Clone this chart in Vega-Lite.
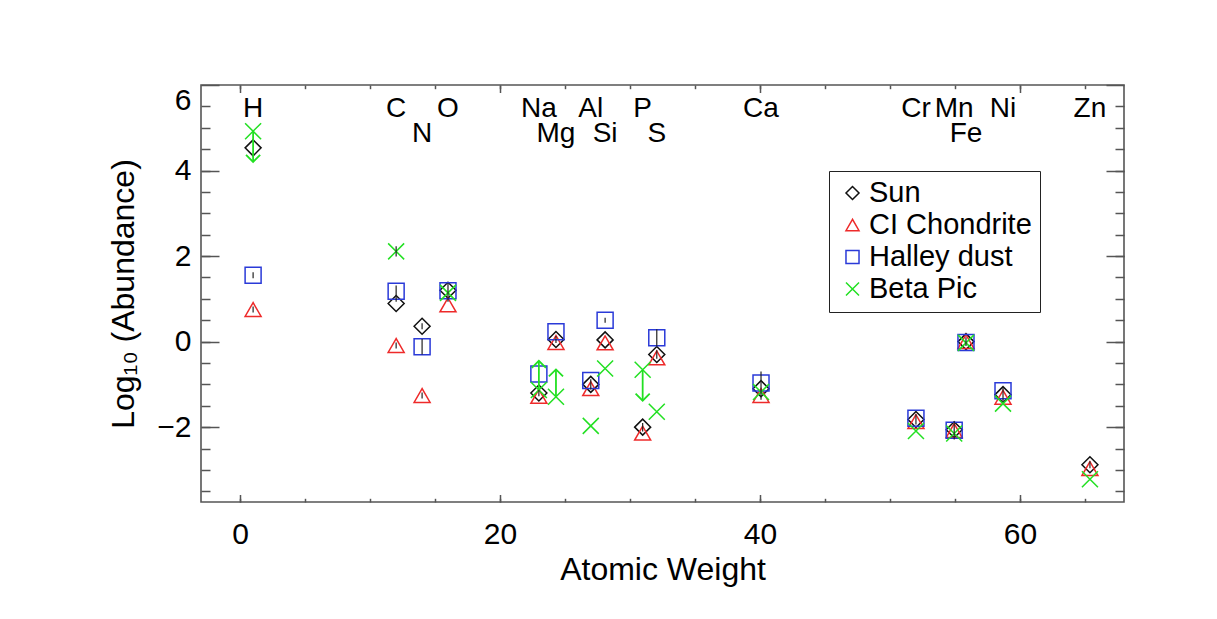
{
  "$schema": "https://vega.github.io/schema/vega-lite/v6.json",
  "width": 923,
  "height": 417,
  "autosize": {"type": "none"},
  "padding": {"left": 201, "top": 85, "right": 93, "bottom": 117},
  "background": "white",
  "config": {
    "font": "Liberation Sans",
    "view": {"stroke": "#555555", "strokeWidth": 1.6},
    "axis": {"domain": false, "grid": false, "tickColor": "#555555", "tickWidth": 1.5, "labelColor": "black", "titleColor": "black", "titleFontWeight": "normal", "labelFont": "Liberation Sans", "titleFont": "Liberation Sans"},
    "legend": {"labelFont": "Liberation Sans", "labelLimit": 0}
  },
  "datasets": {
    "elements": [
      {"el": "H", "w": 1.008, "row": 1},
      {"el": "C", "w": 12.011, "row": 1},
      {"el": "N", "w": 14.007, "row": 2},
      {"el": "O", "w": 15.999, "row": 1},
      {"el": "Na", "w": 22.99, "row": 1},
      {"el": "Mg", "w": 24.305, "row": 2},
      {"el": "Al", "w": 26.982, "row": 1},
      {"el": "Si", "w": 28.086, "row": 2},
      {"el": "P", "w": 30.974, "row": 1},
      {"el": "S", "w": 32.06, "row": 2},
      {"el": "Ca", "w": 40.078, "row": 1},
      {"el": "Cr", "w": 51.996, "row": 1},
      {"el": "Mn", "w": 54.938, "row": 1},
      {"el": "Fe", "w": 55.845, "row": 2},
      {"el": "Ni", "w": 58.693, "row": 1},
      {"el": "Zn", "w": 65.38, "row": 1}
    ],
    "abund": [
      {"src": "Sun", "el": "H", "w": 1.008, "v": 4.53},
      {"src": "Sun", "el": "C", "w": 12.011, "v": 0.89},
      {"src": "Sun", "el": "N", "w": 14.007, "v": 0.36},
      {"src": "Sun", "el": "O", "w": 15.999, "v": 1.2},
      {"src": "Sun", "el": "Na", "w": 22.99, "v": -1.2},
      {"src": "Sun", "el": "Mg", "w": 24.305, "v": 0.05},
      {"src": "Sun", "el": "Al", "w": 26.982, "v": -1.0},
      {"src": "Sun", "el": "Si", "w": 28.086, "v": 0.04},
      {"src": "Sun", "el": "P", "w": 30.974, "v": -2.0},
      {"src": "Sun", "el": "S", "w": 32.06, "v": -0.3},
      {"src": "Sun", "el": "Ca", "w": 40.078, "v": -1.1},
      {"src": "Sun", "el": "Cr", "w": 51.996, "v": -1.82},
      {"src": "Sun", "el": "Mn", "w": 54.938, "v": -2.06},
      {"src": "Sun", "el": "Fe", "w": 55.845, "v": 0.0},
      {"src": "Sun", "el": "Ni", "w": 58.693, "v": -1.24},
      {"src": "Sun", "el": "Zn", "w": 65.38, "v": -2.88},
      {"src": "CI Chondrite", "el": "H", "w": 1.008, "v": 0.75},
      {"src": "CI Chondrite", "el": "C", "w": 12.011, "v": -0.09},
      {"src": "CI Chondrite", "el": "N", "w": 14.007, "v": -1.26},
      {"src": "CI Chondrite", "el": "O", "w": 15.999, "v": 0.86},
      {"src": "CI Chondrite", "el": "Na", "w": 22.99, "v": -1.28},
      {"src": "CI Chondrite", "el": "Mg", "w": 24.305, "v": -0.02},
      {"src": "CI Chondrite", "el": "Al", "w": 26.982, "v": -1.1},
      {"src": "CI Chondrite", "el": "Si", "w": 28.086, "v": -0.03},
      {"src": "CI Chondrite", "el": "P", "w": 30.974, "v": -2.14},
      {"src": "CI Chondrite", "el": "S", "w": 32.06, "v": -0.38},
      {"src": "CI Chondrite", "el": "Ca", "w": 40.078, "v": -1.26},
      {"src": "CI Chondrite", "el": "Cr", "w": 51.996, "v": -1.87},
      {"src": "CI Chondrite", "el": "Mn", "w": 54.938, "v": -2.08},
      {"src": "CI Chondrite", "el": "Fe", "w": 55.845, "v": 0.0},
      {"src": "CI Chondrite", "el": "Ni", "w": 58.693, "v": -1.3},
      {"src": "CI Chondrite", "el": "Zn", "w": 65.38, "v": -2.97},
      {"src": "Halley dust", "el": "H", "w": 1.008, "v": 1.55},
      {"src": "Halley dust", "el": "C", "w": 12.011, "v": 1.18},
      {"src": "Halley dust", "el": "N", "w": 14.007, "v": -0.12},
      {"src": "Halley dust", "el": "O", "w": 15.999, "v": 1.19},
      {"src": "Halley dust", "el": "Na", "w": 22.99, "v": -0.76},
      {"src": "Halley dust", "el": "Mg", "w": 24.305, "v": 0.23},
      {"src": "Halley dust", "el": "Al", "w": 26.982, "v": -0.91},
      {"src": "Halley dust", "el": "Si", "w": 28.086, "v": 0.5},
      {"src": "Halley dust", "el": "S", "w": 32.06, "v": 0.09},
      {"src": "Halley dust", "el": "Ca", "w": 40.078, "v": -0.97},
      {"src": "Halley dust", "el": "Cr", "w": 51.996, "v": -1.79},
      {"src": "Halley dust", "el": "Mn", "w": 54.938, "v": -2.07},
      {"src": "Halley dust", "el": "Fe", "w": 55.845, "v": -0.02},
      {"src": "Halley dust", "el": "Ni", "w": 58.693, "v": -1.15},
      {"src": "Beta Pic", "el": "H", "w": 1.008, "v": 4.92},
      {"src": "Beta Pic", "el": "C", "w": 12.011, "v": 2.11},
      {"src": "Beta Pic", "el": "O", "w": 15.999, "v": 1.14},
      {"src": "Beta Pic", "el": "Na", "w": 22.99, "v": -1.13},
      {"src": "Beta Pic", "el": "Mg", "w": 24.305, "v": -1.29},
      {"src": "Beta Pic", "el": "Al", "w": 26.982, "v": -1.97},
      {"src": "Beta Pic", "el": "Si", "w": 28.086, "v": -0.63},
      {"src": "Beta Pic", "el": "P", "w": 30.974, "v": -0.66},
      {"src": "Beta Pic", "el": "S", "w": 32.06, "v": -1.64},
      {"src": "Beta Pic", "el": "Ca", "w": 40.078, "v": -1.18},
      {"src": "Beta Pic", "el": "Cr", "w": 51.996, "v": -2.09},
      {"src": "Beta Pic", "el": "Mn", "w": 54.938, "v": -2.15},
      {"src": "Beta Pic", "el": "Fe", "w": 55.845, "v": -0.03},
      {"src": "Beta Pic", "el": "Ni", "w": 58.693, "v": -1.45},
      {"src": "Beta Pic", "el": "Zn", "w": 65.38, "v": -3.22}
    ],
    "errs": [
      {"el": "H", "src": "Halley dust", "w": 1.008, "lo": 1.48, "hi": 1.62},
      {"el": "H", "src": "CI Chondrite", "w": 1.008, "lo": 0.68, "hi": 0.82},
      {"el": "C", "src": "Halley dust", "w": 12.011, "lo": 0.93, "hi": 1.31},
      {"el": "C", "src": "Beta Pic", "w": 12.011, "lo": 1.99, "hi": 2.23},
      {"el": "C", "src": "CI Chondrite", "w": 12.011, "lo": -0.16, "hi": -0.02},
      {"el": "N", "src": "Sun", "w": 14.007, "lo": 0.29, "hi": 0.43},
      {"el": "N", "src": "Halley dust", "w": 14.007, "lo": -0.3, "hi": 0.06},
      {"el": "N", "src": "CI Chondrite", "w": 14.007, "lo": -1.33, "hi": -1.19},
      {"el": "O", "src": "Halley dust", "w": 15.999, "lo": 0.93, "hi": 1.37},
      {"el": "Na", "src": "Sun", "w": 22.99, "lo": -1.28, "hi": -1.12},
      {"el": "Mg", "src": "Sun", "w": 24.305, "lo": -0.03, "hi": 0.13},
      {"el": "Al", "src": "Sun", "w": 26.982, "lo": -1.12, "hi": -0.88},
      {"el": "Si", "src": "Halley dust", "w": 28.086, "lo": 0.44, "hi": 0.56},
      {"el": "P", "src": "Sun", "w": 30.974, "lo": -2.1, "hi": -1.9},
      {"el": "S", "src": "Halley dust", "w": 32.06, "lo": -0.11, "hi": 0.29},
      {"el": "S", "src": "Sun", "w": 32.06, "lo": -0.4, "hi": -0.2},
      {"el": "Ca", "src": "Sun", "w": 40.078, "lo": -1.36, "hi": -0.7},
      {"el": "Cr", "src": "Sun", "w": 51.996, "lo": -1.94, "hi": -1.7},
      {"el": "Mn", "src": "Sun", "w": 54.938, "lo": -2.29, "hi": -1.87},
      {"el": "Fe", "src": "Sun", "w": 55.845, "lo": -0.1, "hi": 0.1},
      {"el": "Ni", "src": "Sun", "w": 58.693, "lo": -1.39, "hi": -1.07},
      {"el": "Zn", "src": "Sun", "w": 65.38, "lo": -2.96, "hi": -2.8}
    ],
    "limits": [
      {"el": "H", "w": 1.008, "v": 4.92, "end": 4.2, "dir": "down"},
      {"el": "Na", "w": 22.99, "v": -1.13, "end": -0.45, "dir": "up"},
      {"el": "Mg", "w": 24.305, "v": -1.29, "end": -0.65, "dir": "up"},
      {"el": "P", "w": 30.974, "v": -0.66, "end": -1.38, "dir": "down"}
    ]
  },
  "layer": [
    {
      "data": {"name": "elements"},
      "transform": [{"filter": "datum.row === 1"}],
      "mark": {"type": "text", "fontSize": 28, "baseline": "alphabetic", "align": "center", "color": "black"},
      "encoding": {
        "x": {"field": "w", "type": "quantitative", "scale": {"domain": [-3, 68], "nice": false, "zero": false},
          "axis": {"orient": "bottom", "values": [0, 20, 40, 60], "format": "d", "tickSize": -7.5, "labelFontSize": 30, "labelPadding": 25, "title": "Atomic Weight", "titleFontSize": 32, "titlePadding": 5}},
        "y": {"datum": 5.25, "type": "quantitative", "scale": {"domain": [-3.75, 6], "nice": false, "zero": false},
          "axis": {"orient": "left", "values": [-2, 0, 2, 4, 6], "format": "d", "tickSize": -18, "labelFontSize": 30, "labelPadding": 28, "labelFlush": true, "title": "Log₁₀ (Abundance)", "titleFontSize": 32, "titlePadding": 16}},
        "text": {"field": "el"}
      }
    },
    {
      "data": {"name": "elements"},
      "transform": [{"filter": "datum.row === 2"}],
      "mark": {"type": "text", "fontSize": 28, "baseline": "alphabetic", "align": "center", "color": "black"},
      "encoding": {
        "x": {"field": "w", "type": "quantitative", "scale": {"domain": [-3, 68], "nice": false, "zero": false},
          "axis": {"orient": "bottom", "values": [0, 5, 10, 15, 20, 25, 30, 35, 40, 45, 50, 55, 60, 65], "tickSize": -3.7, "labels": false, "title": null}},
        "y": {"datum": 4.67, "type": "quantitative", "scale": {"domain": [-3.75, 6], "nice": false, "zero": false},
          "axis": {"orient": "left", "values": [-3.5, -3, -2.5, -2, -1.5, -1, -0.5, 0, 0.5, 1, 1.5, 2, 2.5, 3, 3.5, 4, 4.5, 5, 5.5], "tickSize": -9, "labels": false, "title": null}},
        "text": {"field": "el"}
      }
    },
    {
      "data": {"name": "abund"},
      "mark": {"type": "point", "filled": false, "strokeWidth": 1.5, "size": 256, "opacity": 1},
      "encoding": {
        "x": {"field": "w", "type": "quantitative", "scale": {"domain": [-3, 68], "nice": false, "zero": false},
          "axis": {"orient": "top", "values": [0, 20, 40, 60], "tickSize": -7.5, "labels": false, "title": null}},
        "y": {"field": "v", "type": "quantitative", "scale": {"domain": [-3.75, 6], "nice": false, "zero": false},
          "axis": {"orient": "right", "values": [-2, 0, 2, 4, 6], "tickSize": -18, "labels": false, "title": null}},
        "color": {"field": "src", "type": "nominal", "title": null,
          "scale": {"domain": ["Sun", "CI Chondrite", "Halley dust", "Beta Pic"], "range": ["#111111", "#ee2a2a", "#2a3ad8", "#22e022"]},
          "legend": {"orient": "none", "legendX": 628, "legendY": 86, "labelFontSize": 29, "labelLimit": 0, "symbolSize": 170, "symbolStrokeWidth": 1.5, "symbolFillColor": "transparent", "fillColor": "white", "strokeColor": "#222222", "padding": 7.5, "symbolOffset": 1.5, "labelOffset": 2, "labelColor": "black"}},
        "shape": {"field": "src", "type": "nominal", "title": null,
          "scale": {"domain": ["Sun", "CI Chondrite", "Halley dust", "Beta Pic"], "range": ["diamond", "triangle-up", "square", "M-1,-1L1,1M-1,1L1,-1"]}}
      }
    },
    {
      "data": {"name": "errs"},
      "mark": {"type": "rule", "color": "#222222", "strokeWidth": 1.2},
      "encoding": {
        "x": {"field": "w", "type": "quantitative", "scale": {"domain": [-3, 68], "nice": false, "zero": false},
          "axis": {"orient": "top", "values": [0, 5, 10, 15, 20, 25, 30, 35, 40, 45, 50, 55, 60, 65], "tickSize": -3.7, "labels": false, "title": null}},
        "y": {"field": "lo", "type": "quantitative", "scale": {"domain": [-3.75, 6], "nice": false, "zero": false},
          "axis": {"orient": "right", "values": [-3.5, -3, -2.5, -2, -1.5, -1, -0.5, 0, 0.5, 1, 1.5, 2, 2.5, 3, 3.5, 4, 4.5, 5, 5.5], "tickSize": -9, "labels": false, "title": null}},
        "y2": {"field": "hi"}
      }
    },
    {
      "data": {"name": "limits"},
      "mark": {"type": "rule", "color": "#22e022", "strokeWidth": 1.8},
      "encoding": {
        "x": {"field": "w", "type": "quantitative", "scale": {"domain": [-3, 68], "nice": false, "zero": false}, "axis": null},
        "y": {"field": "v", "type": "quantitative", "scale": {"domain": [-3.75, 6], "nice": false, "zero": false}, "axis": null},
        "y2": {"field": "end"}
      }
    },
    {
      "data": {"name": "limits"},
      "transform": [{"filter": "datum.dir === 'up'"}],
      "mark": {"type": "point", "shape": "M-1,1L0,0L1,1", "filled": false, "strokeWidth": 1.8, "size": 200, "color": "#22e022", "opacity": 1},
      "encoding": {
        "x": {"field": "w", "type": "quantitative", "scale": {"domain": [-3, 68], "nice": false, "zero": false}, "axis": null},
        "y": {"field": "end", "type": "quantitative", "scale": {"domain": [-3.75, 6], "nice": false, "zero": false}, "axis": null}
      }
    },
    {
      "data": {"name": "limits"},
      "transform": [{"filter": "datum.dir === 'down'"}],
      "mark": {"type": "point", "shape": "M-1,-1L0,0L1,-1", "filled": false, "strokeWidth": 1.8, "size": 200, "color": "#22e022", "opacity": 1},
      "encoding": {
        "x": {"field": "w", "type": "quantitative", "scale": {"domain": [-3, 68], "nice": false, "zero": false}, "axis": null},
        "y": {"field": "end", "type": "quantitative", "scale": {"domain": [-3.75, 6], "nice": false, "zero": false}, "axis": null}
      }
    }
  ],
  "resolve": {"axis": {"x": "independent", "y": "independent"}}
}
